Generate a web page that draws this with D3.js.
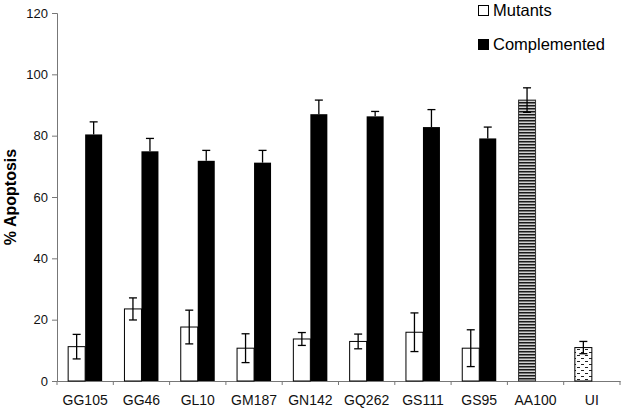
<!DOCTYPE html>
<html>
<head>
<meta charset="utf-8">
<script src="https://cdn.jsdelivr.net/npm/d3@7"></script>
<style>
html,body{margin:0;padding:0;background:#fff;}
svg{display:block;font-family:Arial,"Liberation Sans",sans-serif;}
</style>
</head>
<body>
<svg id="chart" width="625" height="410"></svg>
<script>
const categories = ["GG105","GG46","GL10","GM187","GN142","GQ262","GS111","GS95","AA100","UI"];
const mutants      = [11.2, 23.5, 17.6, 10.7, 13.7, 12.9, 15.9, 10.7, 91.6, 10.9];
const mutantsErr   = [4.0, 3.6, 5.5, 4.7, 2.1, 2.4, 6.3, 6.0, 4.0, 2.0];
const complemented    = [80.4, 74.9, 71.8, 71.2, 87.0, 86.3, 82.8, 79.1, null, null];
const complementedErr = [4.1, 4.2, 3.4, 4.0, 4.6, 1.6, 5.7, 3.7, null, null];
const seriesNames = ["Mutants","Complemented"];
const yTicks = [0,20,40,60,80,100,120];

const svg = d3.select("#chart");
const margin = {left:57, right:5, top:13, bottom:29};
const W = 625, H = 410;

const defs = svg.append("defs");
const hatch = defs.append("pattern").attr("id","hatch").attr("patternUnits","userSpaceOnUse")
  .attr("width",6).attr("height",3);
hatch.append("rect").attr("width",6).attr("height",3).attr("fill","#d0d0d0");
hatch.append("rect").attr("y",0).attr("width",6).attr("height",1.5).attr("fill","#1a1a1a");

const dots = defs.append("pattern").attr("id","dots").attr("patternUnits","userSpaceOnUse")
  .attr("width",8).attr("height",6);
dots.append("rect").attr("width",8).attr("height",6).attr("fill","#fff");
dots.append("rect").attr("x",1).attr("y",1).attr("width",3).attr("height",1).attr("fill","#222");
dots.append("rect").attr("x",5).attr("y",4).attr("width",3).attr("height",1).attr("fill","#222");

const x = d3.scaleBand().domain(categories).range([margin.left, W - margin.right]).paddingInner(0).paddingOuter(0);
const xs = d3.scaleBand().domain(seriesNames).range([0, x.bandwidth()]).paddingInner(0).paddingOuter(0.656);
const y = d3.scaleLinear().domain([0,120]).range([H - margin.bottom, margin.top]);

// Y axis
const yAxis = d3.axisLeft(y).tickValues(yTicks).tickSize(5).tickPadding(4);
const gy = svg.append("g").attr("transform",`translate(${margin.left},0)`).call(yAxis);
gy.select(".domain").attr("stroke","#777");
gy.selectAll(".tick line").attr("stroke","#777");
gy.selectAll(".tick text").attr("font-size",13).attr("fill","#111").attr("font-family","Arial,'Liberation Sans',sans-serif");

// X axis
const xAxis = d3.axisBottom(x).tickSize(0).tickPadding(14);
const gx = svg.append("g").attr("transform",`translate(0,${y(0)})`).call(xAxis);
gx.select(".domain").attr("stroke","#777");
gx.selectAll(".tick text").attr("font-size",14).attr("fill","#111").attr("font-family","Arial,'Liberation Sans',sans-serif");
// boundary ticks
const bounds = categories.map(c => x(c)).concat([x(categories[categories.length-1]) + x.bandwidth()]);
gx.selectAll("line.bt").data(bounds).enter().append("line").attr("class","bt")
  .attr("x1",d=>d).attr("x2",d=>d).attr("y1",0).attr("y2",4).attr("stroke","#777");

// Bars
const fillFor = (c) => c === "AA100" ? "url(#hatch)" : (c === "UI" ? "url(#dots)" : "#fff");
const bw = xs.bandwidth();

const mut = svg.append("g");
categories.forEach((c,i) => {
  const bx = x(c) + xs("Mutants");
  mut.append("rect").attr("x",bx).attr("y",y(mutants[i])).attr("width",bw).attr("height",y(0)-y(mutants[i]))
    .attr("fill",fillFor(c)).attr("stroke",c==="AA100" ? "#333" : "#000").attr("stroke-width",1);
  const cx = bx + bw/2;
  const e1 = y(mutants[i] + mutantsErr[i]), e2 = y(mutants[i] - mutantsErr[i]);
  mut.append("line").attr("x1",cx).attr("x2",cx).attr("y1",e1).attr("y2",e2).attr("stroke","#000").attr("stroke-width",1.3);
  mut.append("line").attr("x1",cx-4).attr("x2",cx+4).attr("y1",e1).attr("y2",e1).attr("stroke","#000").attr("stroke-width",1.3);
  mut.append("line").attr("x1",cx-4).attr("x2",cx+4).attr("y1",e2).attr("y2",e2).attr("stroke","#000").attr("stroke-width",1.3);
});

const comp = svg.append("g");
categories.forEach((c,i) => {
  if (complemented[i] == null) return;
  const bx = x(c) + xs("Complemented");
  comp.append("rect").attr("x",bx).attr("y",y(complemented[i])).attr("width",bw).attr("height",y(0)-y(complemented[i]))
    .attr("fill","#000");
  const cx = bx + bw/2;
  const e1 = y(complemented[i] + complementedErr[i]);
  comp.append("line").attr("x1",cx).attr("x2",cx).attr("y1",e1).attr("y2",y(complemented[i])).attr("stroke","#000").attr("stroke-width",1.3);
  comp.append("line").attr("x1",cx-4).attr("x2",cx+4).attr("y1",e1).attr("y2",e1).attr("stroke","#000").attr("stroke-width",1.3);
});

// Y title
svg.append("text").attr("transform",`translate(16,${(y(0)+y(120))/2}) rotate(-90)`)
  .attr("text-anchor","middle").attr("font-size",16).attr("font-weight","bold").attr("fill","#000")
  .text("% Apoptosis");

// Legend
const leg = svg.append("g");
seriesNames.forEach((s,i) => {
  const ly = 5 + i*34;
  leg.append("rect").attr("x",478.5).attr("y",ly+0.5).attr("width",10).attr("height",10)
    .attr("fill", i===0 ? "#fff" : "#000").attr("stroke","#000").attr("stroke-width",1);
  leg.append("text").attr("x",493).attr("y",ly+11).attr("font-size",16.5).attr("fill","#000").text(s);
});
</script>
</body>
</html>
